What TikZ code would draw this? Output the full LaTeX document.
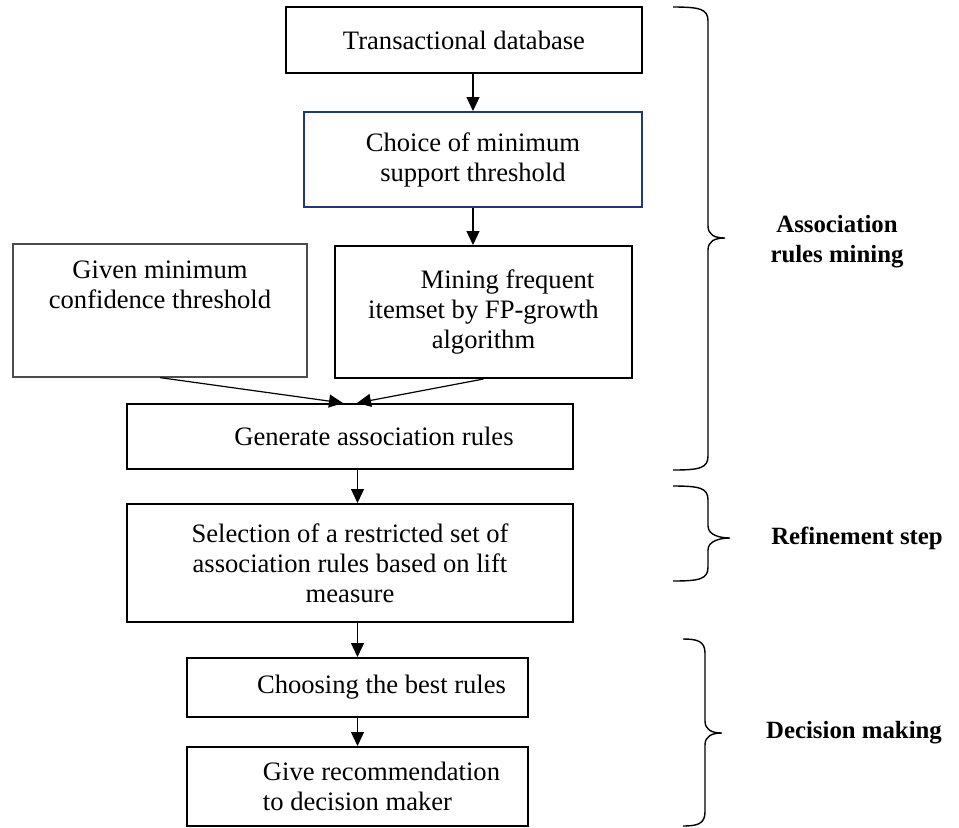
\documentclass[tikz,border=0pt]{standalone}
\usepackage{fontspec}
\setmainfont{Liberation Serif}
\usetikzlibrary{arrows.meta}
\definecolor{boxblue}{HTML}{1F3A6E}
\newcommand\indt{\hspace*{24pt}}

\begin{document}
\begin{tikzpicture}[x=0.5pt, y=-0.5pt, font=\fontsize{13.3pt}{15pt}\selectfont]
    \useasboundingbox (0,0) rectangle (959,827);
    % boxes
    \path[
      b/.style = {draw, line width=1pt, inner sep=0pt, align=center},
      g/.style = {draw=black!70, line width=0.6pt, inner sep=0pt},
      c/.style = {draw=boxblue, line width=1pt, inner sep=0pt, align=center}
    ]
      (464,40) node[b, minimum width=178pt, minimum height=33pt](T){Transactional database}
      (473,159.5) node[c, minimum width=169pt, minimum height=47.5pt](C){Choice of minimum\\support threshold}
      (160,310.5) node[g, minimum width=147pt, minimum height=66.5pt](G){\parbox[c][50pt][t]{140pt}{\centering Given minimum\\confidence threshold}}
      (483.5,312) node[b, minimum width=148.5pt, minimum height=66pt](M){\indt Mining frequent\\itemset by FP-growth\\algorithm}
      (350,436.5) node[b, minimum width=223pt, minimum height=32.5pt](Gen){\indt Generate association rules}
      (350,563) node[b, minimum width=223pt, minimum height=59pt](S){Selection of a restricted set of\\association rules based on lift\\measure}
      (357.5,687.5) node[b, minimum width=170.5pt, minimum height=29.5pt](Ch){\indt Choosing the best rules}
      (357.5,786.5) node[b, minimum width=170.5pt, minimum height=39.5pt, align=left](Gv){\indt Give recommendation\\\indt to decision maker}
    ;
    % arrows
    \path[-{Triangle[length=7pt, width=6.5pt]}, line width=0.6pt]
      (C.north |- T.south) edge (C.north)
      (C.south) edge (C.south |- M.north)
      (G.south) edge ([xshift=-3.5pt]Gen.north)
      (M.south) edge ([xshift=3.5pt]Gen.north)
      (Gen.south -| Ch.north) edge (S.north -| Ch.north)
      (S.south -| Ch.north) edge (Ch.north)
      (Ch.south) edge (Gv.north)
    ;
    % braces
    \foreach \xa/\xb/\xc/\ya/\yb/\yc in {673/708/725/7/238/470, 673/708/730/486/538/581, 683/705/722/639/733/826}{
      \draw[line width=0.7pt]
        (\xa,\ya) .. controls (\xb-8,\ya) and (\xb,\ya+2) .. (\xb,\ya+14)
        -- (\xb,\yb-12) .. controls (\xb,\yb-3) and (\xc-10,\yb) .. (\xc,\yb)
        .. controls (\xc-10,\yb) and (\xb,\yb+3) .. (\xb,\yb+12)
        -- (\xb,\yc-14) .. controls (\xb,\yc-2) and (\xb-8,\yc) .. (\xa,\yc);
    }
    % labels
    \path[font=\fontsize{12.4pt}{15pt}\selectfont\bfseries, align=center]
      (837,242) node(L1){Association\\rules mining}
      (857,538) node(L2){Refinement step}
      (854,733) node(L3){Decision making}
    ;
\end{tikzpicture}
\end{document}
